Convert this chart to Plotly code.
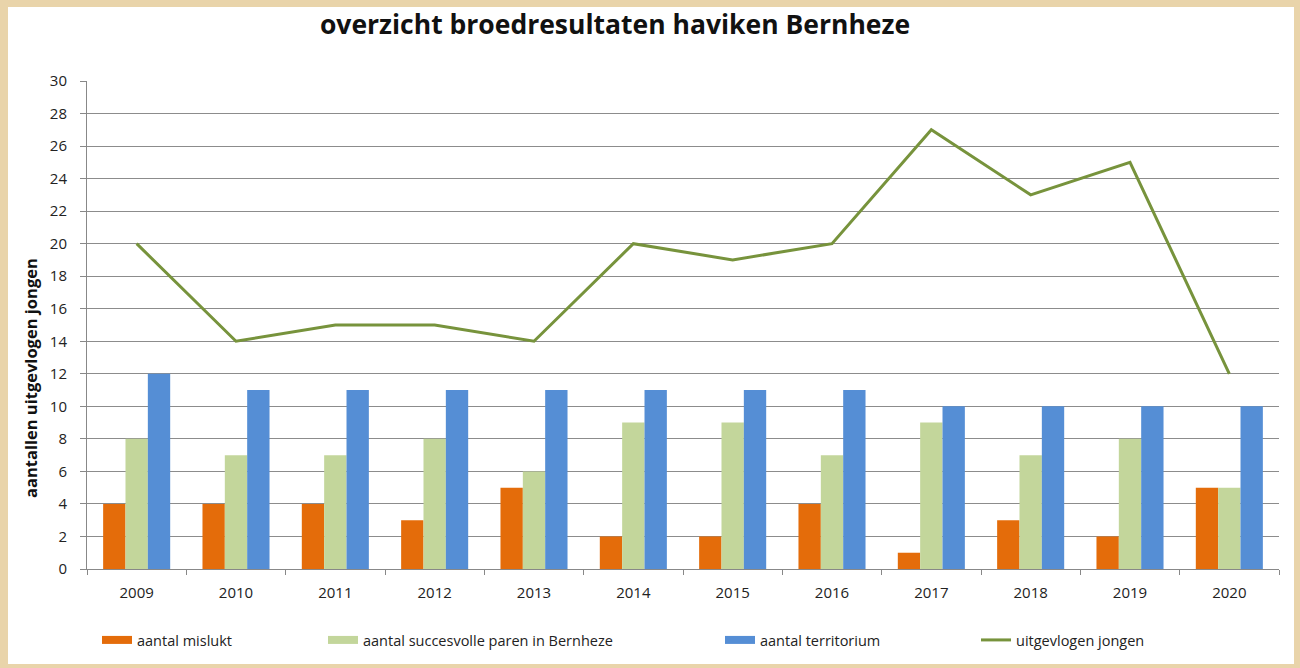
import plotly.graph_objects as go

years = ["2009", "2010", "2011", "2012", "2013", "2014", "2015", "2016", "2017", "2018", "2019", "2020"]
mislukt = [4, 4, 4, 3, 5, 2, 2, 4, 1, 3, 2, 5]
succesvol = [8, 7, 7, 8, 6, 9, 9, 7, 9, 7, 8, 5]
territorium = [12, 11, 11, 11, 11, 11, 11, 11, 10, 10, 10, 10]
uitgevlogen = [20, 14, 15, 15, 14, 20, 19, 20, 27, 23, 25, 12]

names = ["aantal mislukt", "aantal succesvolle paren in Bernheze", "aantal territorium", "uitgevlogen jongen"]
colors = ["#E46C0A", "#C3D69B", "#558ED5", "#77933C"]

FONT = "Open Sans"
W, H = 1300, 668
ML, MR, MT, MB = 87, 21, 81, 99
PW, PH = W - ML - MR, H - MT - MB


def px_x(p):
    return (p - ML) / PW


def px_y(p):
    return (H - MB - p) / PH


fig = go.Figure()
series = [mislukt, succesvol, territorium]
for i, vals in enumerate(series):
    fig.add_trace(go.Bar(x=years, y=vals, name=names[i], legendgroup=names[i], showlegend=False,
                         marker=dict(color=colors[i], line_width=0)))
fig.add_trace(go.Scatter(x=years, y=uitgevlogen, name=names[3], mode="lines", showlegend=True,
                         legend="legend4", line=dict(color=colors[3], width=3)))

# legend proxies for the bar series (wide flat swatches like the original)
legend_keys = ["legend", "legend2", "legend3"]
for i in range(3):
    fig.add_trace(go.Scatter(x=[None], y=[None], mode="lines", name=names[i], legendgroup=names[i],
                             legend=legend_keys[i], line=dict(color=colors[i], width=8)))

fig.add_shape(type="rect", xref="paper", yref="paper", layer="below",
              x0=px_x(8), x1=px_x(1294), y0=px_y(664), y1=px_y(7),
              fillcolor="white", line_width=0)

fig.add_annotation(text="<b>aantallen uitgevlogen jongen</b>", textangle=-90,
                   xref="paper", yref="paper", x=px_x(30), y=px_y(378),
                   xanchor="center", yanchor="middle", showarrow=False,
                   font=dict(family=FONT, size=16.5, color="#111"))

sym_x = [102, 328, 725, 981]
leg_common = dict(orientation="h", xanchor="left", y=px_y(640), yanchor="middle",
                  font=dict(family=FONT, size=14.5, color="#222"), bgcolor="rgba(0,0,0,0)",
                  borderwidth=0, itemwidth=30)

fig.update_layout(
    width=W, height=H,
    margin=dict(l=ML, r=MR, t=MT, b=MB, pad=0),
    paper_bgcolor="#E9D4AA",
    plot_bgcolor="rgba(0,0,0,0)",
    barmode="group", bargap=0.325, bargroupgap=0,
    font=dict(family=FONT, size=14, color="#222"),
    title=dict(text="<b>overzicht broedresultaten haviken Bernheze</b>",
               x=615 / W, xanchor="center", y=1 - 25 / H, yanchor="middle",
               font=dict(family=FONT, size=26.5, color="#111")),
    xaxis=dict(type="category", showline=True, linecolor="#888", linewidth=1,
               ticks="outside", tickson="boundaries", ticklen=5, tickcolor="#888",
               ticklabelstandoff=10,
               tickfont=dict(size=15, color="#222"), showgrid=False),
    yaxis=dict(range=[0, 30], dtick=2, showline=True, linecolor="#888", linewidth=1,
               ticks="outside", ticklen=6, tickcolor="#888",
               ticklabelstandoff=10,
               gridcolor="#8c8c8c", gridwidth=1, zeroline=False,
               tickfont=dict(size=15, color="#222")),
    legend=dict(x=px_x(sym_x[0] - 5), **leg_common),
    legend2=dict(x=px_x(sym_x[1] - 5), **leg_common),
    legend3=dict(x=px_x(sym_x[2] - 5), **leg_common),
    legend4=dict(x=px_x(sym_x[3] - 5), **leg_common),
    showlegend=True,
)

fig.write_html("out.html", config={"displayModeBar": False},
               post_script="document.body.style.margin='0';document.body.style.background='#E9D4AA';")
